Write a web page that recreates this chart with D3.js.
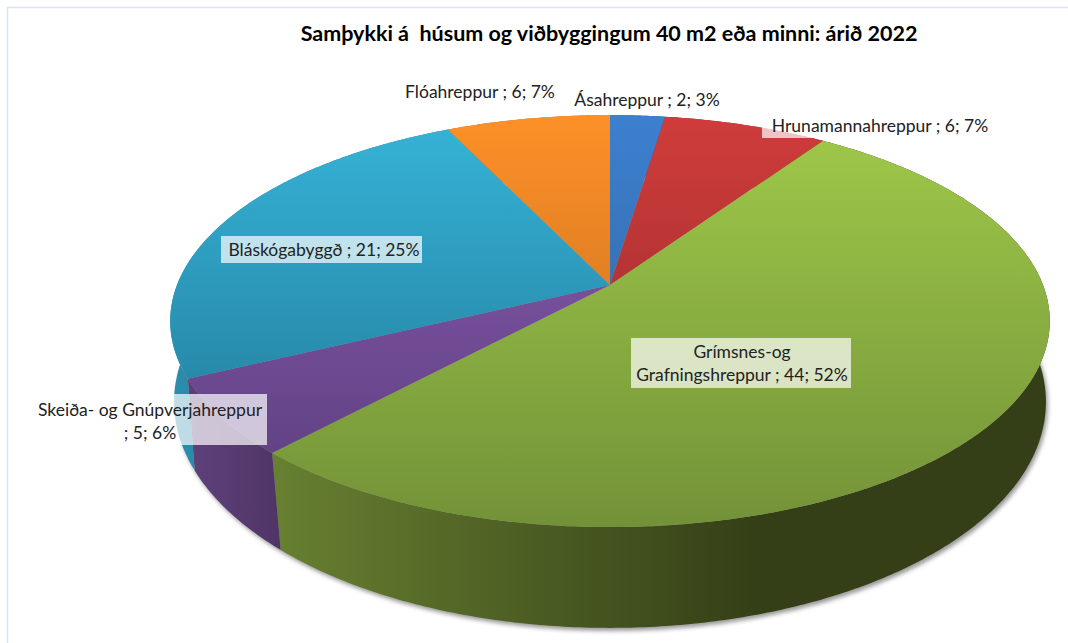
<!DOCTYPE html>
<html>
<head>
  <meta charset="utf-8">
  <style>
    body { margin: 0; background: #fff; }
    text { font-family: Lato, "Open Sans", sans-serif; fill: #222; }
  </style>
</head>
<body>
  <script src="https://cdn.jsdelivr.net/npm/d3@7"></script>
  <script>
    // chart data
    var chartTitle = "Samþykki á  húsum og viðbyggingum 40 m2 eða minni: árið 2022";
    var names = ["Ásahreppur", "Hrunamannahreppur", "Grímsnes-og Grafningshreppur",
                 "Skeiða- og Gnúpverjahreppur", "Bláskógabyggð", "Flóahreppur"];
    var values = [2, 6, 44, 5, 21, 6];
    var percents = [3, 7, 52, 6, 25, 7];

    // slice colours, top face goes light -> dark, wall goes left -> right
    var faceTop = ["#3d80d0", "#cf3c3b", "#a0ca4a", "#8b5eb2", "#36b4d8", "#fd9028"];
    var faceBottom = ["#2c5e90", "#8f2828", "#739238", "#5a3c7c", "#1f7290", "#b8681c"];
    var wallLeft = ["#2c5e90", "#8f2828", "#667f30", "#5e4079", "#2b8cab", "#b8681c"];
    var wallRight = ["#2c5e90", "#8f2828", "#353f17", "#4f3566", "#25788f", "#b8681c"];

    // label boxes, text centre and baselines
    var labelBox = [
      {x: 565, y: 85, w: 160, h: 27, cx: 647, base: [105.5]},
      {x: 762, y: 111, w: 230, h: 27, cx: 880, base: [131.5]},
      {x: 631, y: 338, w: 220, h: 50, cx: 742, base: [358, 381], wrap: ["Grímsnes-og", "Grafningshreppur ; 44; 52%"]},
      {x: 28, y: 394, w: 239, h: 51, cx: 150, base: [416, 438.5], wrap: ["Skeiða- og Gnúpverjahreppur", "; 5; 6%"]},
      {x: 221, y: 236, w: 201, h: 27, cx: 324, base: [256]},
      {x: 387, y: 77, w: 171, h: 28, cx: 480, base: [98]}
    ];

    var width = 1068, height = 643;

    var svg = d3.select("body").append("svg")
      .attr("width", width)
      .attr("height", height)
      .style("display", "block");

    var defs = svg.append("defs");

    // the pie is a tilted disc: apex sits above the ellipse centre
    var topDisc = {ax: 610, ay: 285, r: 433, b: 199.7, k: -0.175};
    var bottomDisc = {ax: 610, ay: 368, r: 431, b: 220.9, k: -0.15};

    function project(disc, angle) {
      var u = Math.sin(angle), v = -Math.cos(angle);
      var w = 1 + disc.k * v;
      return [disc.ax + disc.r * u / w, disc.ay + disc.b * v / w];
    }

    var pie = d3.pie().sort(null).startAngle(0).endAngle(2 * Math.PI);
    var arcs = pie(values);
    var line = d3.line();

    function rim(disc, a0, a1) {
      var n = Math.max(2, Math.ceil((a1 - a0) / 0.01));
      return d3.range(n + 1).map(function (i) {
        return project(disc, a0 + (a1 - a0) * i / n);
      });
    }

    // frame lines at top and left
    svg.append("path")
      .attr("d", line([[7.5, height], [7.5, 7.5], [width, 7.5]]))
      .attr("fill", "none")
      .attr("stroke", "#d6e6f6")
      .attr("stroke-width", 1.5);

    // title
    svg.append("text")
      .attr("x", 609)
      .attr("y", 41)
      .attr("text-anchor", "middle")
      .attr("font-weight", 700)
      .attr("font-size", 21.5)
      .style("fill", "#000")
      .style("white-space", "pre")
      .text(chartTitle);

    // soft shadow under the disc
    var blur = defs.append("filter").attr("id", "blur")
      .attr("x", "-5%").attr("y", "-5%").attr("width", "110%").attr("height", "110%");
    blur.append("feGaussianBlur").attr("stdDeviation", 2.2);

    svg.append("path")
      .attr("d", line(rim(bottomDisc, 0, 2 * Math.PI)) + "Z")
      .attr("transform", "translate(2,3)")
      .attr("fill", "#555")
      .attr("opacity", 0.6)
      .attr("filter", "url(#blur)");

    // gradients
    arcs.forEach(function (d, i) {
      var g = defs.append("linearGradient").attr("id", "face" + i)
        .attr("gradientUnits", "userSpaceOnUse")
        .attr("x1", 0).attr("x2", 0).attr("y1", 115).attr("y2", 527);
      g.append("stop").attr("offset", 0).attr("stop-color", faceTop[i]);
      g.append("stop").attr("offset", 1).attr("stop-color", faceBottom[i]);

      var pts = rim(bottomDisc, d.startAngle, d.endAngle);
      var x0 = d3.min(pts, function (p) { return p[0]; });
      var x1 = d3.max(pts, function (p) { return p[0]; });
      var w = defs.append("linearGradient").attr("id", "wall" + i)
        .attr("gradientUnits", "userSpaceOnUse")
        .attr("x1", x0).attr("x2", i == 2 ? x0 + 0.62 * (x1 - x0) : x1).attr("y1", 0).attr("y2", 0);
      w.append("stop").attr("offset", 0).attr("stop-color", wallLeft[i]);
      w.append("stop").attr("offset", 1).attr("stop-color", wallRight[i]);
    });

    // walls first, then the top faces over them
    svg.append("g").selectAll("path")
      .data(arcs)
      .enter()
      .append("path")
      .attr("fill", function (d, i) { return "url(#wall" + i + ")"; })
      .attr("d", function (d) {
        var upper = rim(topDisc, d.startAngle, d.endAngle);
        var lower = rim(bottomDisc, d.startAngle, d.endAngle).reverse();
        return line(upper.concat(lower)) + "Z";
      });

    svg.append("g").selectAll("path")
      .data(arcs)
      .enter()
      .append("path")
      .attr("fill", function (d, i) { return "url(#face" + i + ")"; })
      .attr("d", function (d) {
        var pts = [[topDisc.ax, topDisc.ay]].concat(rim(topDisc, d.startAngle, d.endAngle));
        return line(pts) + "Z";
      });

    // labels
    var labels = svg.append("g").selectAll("g")
      .data(arcs)
      .enter()
      .append("g");

    labels.append("rect")
      .attr("x", function (d, i) { return labelBox[i].x; })
      .attr("y", function (d, i) { return labelBox[i].y; })
      .attr("width", function (d, i) { return labelBox[i].w; })
      .attr("height", function (d, i) { return labelBox[i].h; })
      .attr("fill", "#fff")
      .attr("fill-opacity", 0.7);

    labels.each(function (d, i) {
      var box = labelBox[i];
      var lines = box.wrap || [names[i] + " ; " + values[i] + "; " + percents[i] + "%"];
      d3.select(this).selectAll("text")
        .data(lines)
        .enter()
        .append("text")
        .attr("x", box.cx)
        .attr("y", function (t, j) { return box.base[j]; })
        .attr("text-anchor", "middle")
        .attr("font-size", 17.5)
        .text(function (t) { return t; });
    });
  </script>
</body>
</html>
